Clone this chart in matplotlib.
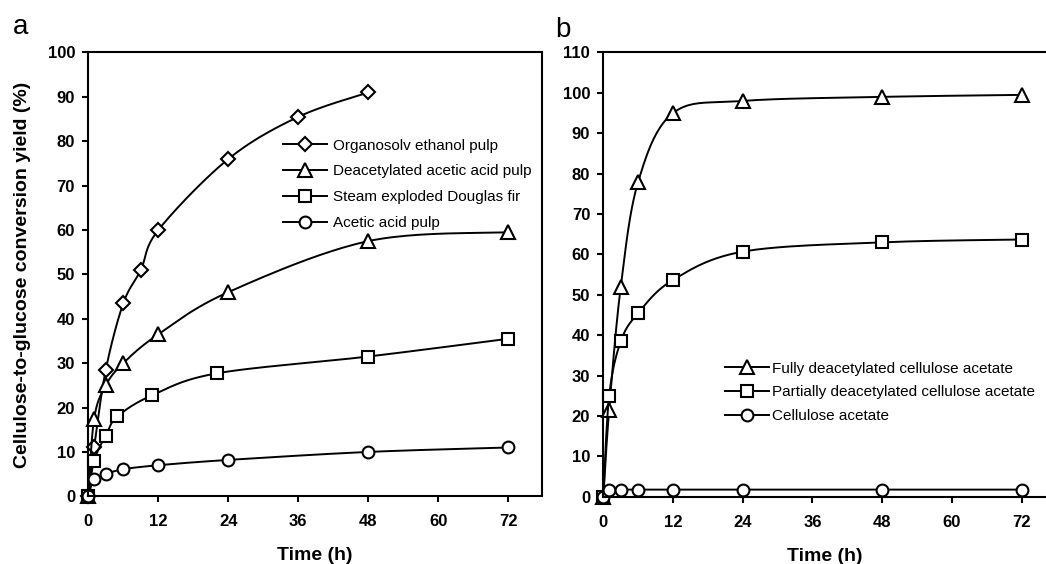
import numpy as np
import matplotlib.pyplot as plt

plt.rcParams['font.family'] = ['Liberation Sans', 'DejaVu Sans']

# panel a: pulps
t_org = [0, 1, 3, 6, 9, 12, 24, 36, 48]
y_org = [0, 11, 28.5, 43.5, 51, 60, 76, 85.5, 91]
t_dap = [0, 1, 3, 6, 12, 24, 48, 72]
y_dap = [0, 17.5, 25, 30, 36.5, 46, 57.5, 59.5]
t_sed = [0, 1, 3, 5, 11, 22, 48, 72]
y_sed = [0, 8, 13.7, 18, 22.8, 27.7, 31.5, 35.5]
t_aap = [0, 1, 3, 6, 12, 24, 48, 72]
y_aap = [0, 3.8, 5, 6.1, 7, 8.2, 10, 11]

# panel b: cellulose acetates
t_b = [0, 1, 3, 6, 12, 24, 48, 72]
y_full = [0, 21.5, 52, 78, 95, 98, 99, 99.5]
y_part = [0, 25, 38.5, 45.5, 53.7, 60.7, 63, 63.7]
y_ca = [0, 1.8, 1.8, 1.8, 1.8, 1.8, 1.8, 1.8]


def smooth(x, y, n=24):
    # Excel-like smoothed line (Catmull-Rom as cubic Bezier)
    p = np.column_stack([x, y]).astype(float)
    out = [p[0]]
    for i in range(len(p) - 1):
        p0 = p[i - 1] if i > 0 else p[i]
        p1, p2 = p[i], p[i + 1]
        p3 = p[i + 2] if i + 2 < len(p) else p[i + 1]
        c1 = p1 + (p2 - p0) / 6
        c2 = p2 - (p3 - p1) / 6
        s = np.linspace(0, 1, n + 1)[1:, None]
        seg = ((1 - s) ** 3 * p1 + 3 * (1 - s) ** 2 * s * c1
               + 3 * (1 - s) * s ** 2 * c2 + s ** 3 * p2)
        out.extend(seg)
    out = np.array(out)
    return out[:, 0], out[:, 1], list(range(0, len(out), n))


def series(ax, x, y, marker, label, ms):
    xs, ys, idx = smooth(x, y)
    ax.plot(xs, ys, color='black', lw=1.4, marker=marker, markevery=idx,
            ms=ms, mfc='white', mec='black', mew=1.5, label=label,
            clip_on=False)


def style(ax, ymax, xmax):
    ax.set_xlim(0, xmax)
    ax.set_ylim(0, ymax)
    ax.set_xticks(range(0, 73, 12))
    ax.set_yticks(range(0, ymax + 1, 10))
    for s in ax.spines.values():
        s.set_linewidth(1.5)
    ax.tick_params(axis='both', direction='out', length=4.5, width=1.5,
                   labelsize=12)
    ax.tick_params(axis='x', pad=8.5)
    ax.tick_params(axis='y', pad=5)
    for lab in ax.get_xticklabels() + ax.get_yticklabels():
        lab.set_fontweight('bold')
    ax.set_xlabel('Time (h)', fontsize=14, fontweight='bold', labelpad=13)


fig = plt.figure(figsize=(10.46, 5.64), dpi=100)
ax1 = fig.add_axes([0.0844, 0.120, 0.4335, 0.787])
ax2 = fig.add_axes([0.5768, 0.119, 0.4232, 0.788])

series(ax1, t_org, y_org, 'D', 'Organosolv ethanol pulp', 7.5)
series(ax1, t_dap, y_dap, '^', 'Deacetylated acetic acid pulp', 10)
series(ax1, t_sed, y_sed, 's', 'Steam exploded Douglas fir', 8.5)
series(ax1, t_aap, y_aap, 'o', 'Acetic acid pulp', 8.5)
style(ax1, 100, 77.7)
ax1.set_ylabel('Cellulose-to-glucose conversion yield (%)', fontsize=14,
               fontweight='bold', labelpad=12)
ax1.legend(loc='upper left', bbox_to_anchor=(0.429, 0.806), frameon=False,
           fontsize=11, handlelength=2.9, handletextpad=0.4, labelspacing=0.78,
           borderpad=0, borderaxespad=0, numpoints=1)

series(ax2, t_b, y_full, '^', 'Fully deacetylated cellulose acetate', 10)
series(ax2, t_b, y_part, 's', 'Partially deacetylated cellulose acetate', 8.5)
series(ax2, t_b, y_ca, 'o', 'Cellulose acetate', 8.5)
style(ax2, 110, 76.2)
ax2.spines['right'].set_visible(False)
ax2.legend(loc='upper left', bbox_to_anchor=(0.275, 0.3045), frameon=False,
           fontsize=11, handlelength=2.9, handletextpad=0.2, labelspacing=0.65,
           borderpad=0, borderaxespad=0, numpoints=1)

fig.text(0.012, 0.94, 'a', fontsize=20)
fig.text(0.531, 0.935, 'b', fontsize=20)

fig.savefig('out.png', dpi=100)
